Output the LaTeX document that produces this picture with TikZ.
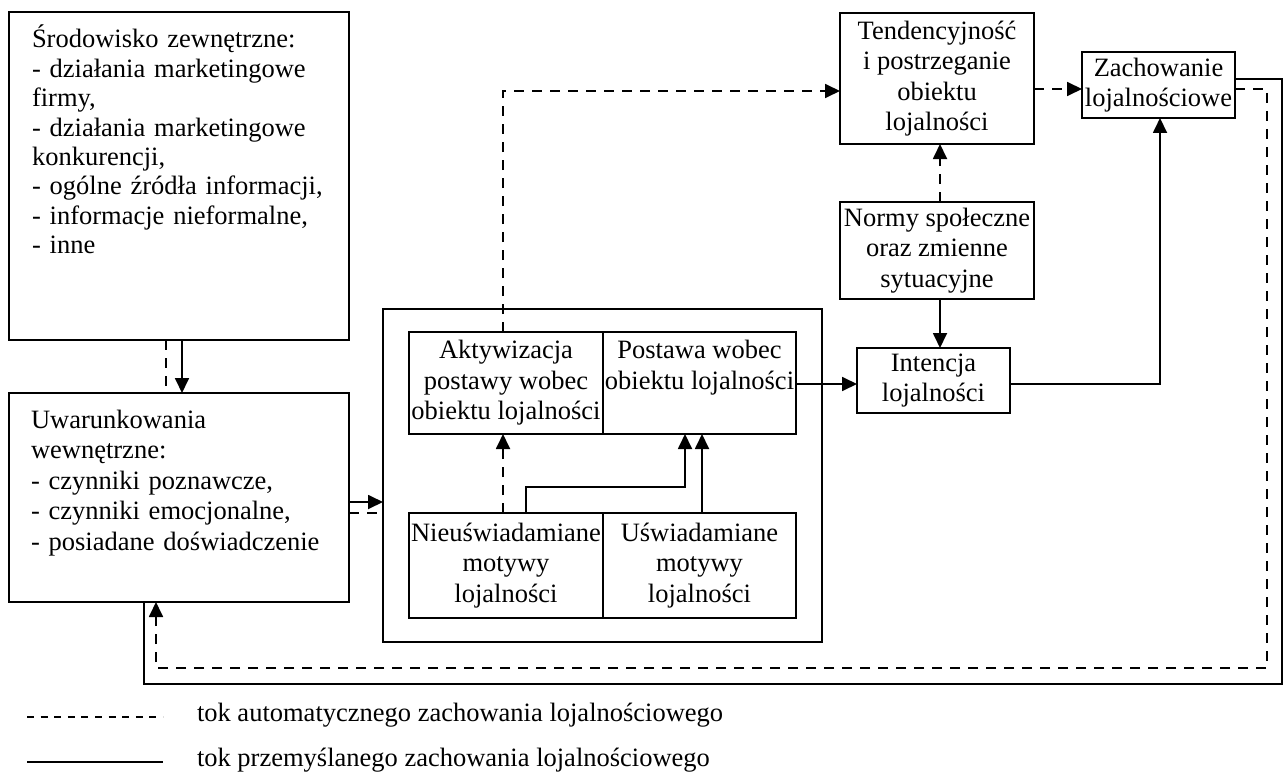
\documentclass[tikz,border=0pt]{standalone}
\usepackage{fontspec}
\setmainfont{Liberation Serif}
\usetikzlibrary{arrows.meta}
\begin{document}
\begin{tikzpicture}[x=1pt,y=-1pt,
  every node/.style={inner sep=0pt, outer sep=0pt},
  txt/.style={font=\fontsize{26.5}{30.5}\selectfont},
  box/.style={draw, line width=1.8pt, txt, align=center},
  solidl/.style={line width=1.8pt},
  delib/.style={line width=1.8pt, dash pattern=on 10pt off 8pt},
  legdash/.style={line width=1.8pt, dash pattern=on 7pt off 6.6pt},
  tip/.style={-{Triangle[length=15pt,width=14pt]}}
]
\useasboundingbox (0,0) rectangle (1287,773);

% left column
\node[box, minimum width=340, minimum height=328] (env) at (179,176) {};
\node[font=\fontsize{26.5}{29.4}\selectfont, anchor=base west, text width=298pt, align=left] (envtext) at (32,48)
  {Środowisko zewnętrzne:\\
   \makebox[298pt][s]{- działania marketingowe}\\
   firmy,\\
   \makebox[298pt][s]{- działania marketingowe}\\
   konkurencji,\\
   - ogólne źródła informacji,\\
   - informacje nieformalne,\\
   - inne};

\node[box, minimum width=340, minimum height=209] (cond) at (179,497.5) {};
\node[font=\fontsize{26.5}{30.5}\selectfont, anchor=base west, text width=310pt, align=left] (condtext) at (31,428)
  {Uwarunkowania\\
   wewnętrzne:\\
   - czynniki poznawcze,\\
   - czynniki emocjonalne,\\
   - posiadane doświadczenie};

% attitude block
\node[box, minimum width=439, minimum height=333] (outer) at (602.5,475.5) {};
\node[box, minimum width=194, minimum height=102] (akty) at (506,383)
  {Aktywizacja\\postawy wobec\\obiektu lojalności};
\node[box, minimum width=193, minimum height=102] (post) at (699.5,383)
  {Postawa wobec\\obiektu lojalności\\\vphantom{obiektu lojalności}};
\node[box, minimum width=194, minimum height=105] (nieu) at (506,565.5)
  {Nieuświadamiane\\motywy\\lojalności};
\node[box, minimum width=193, minimum height=105] (uswi) at (699.5,565.5)
  {Uświadamiane\\motywy\\lojalności};

% right part
\node[box, minimum width=194, minimum height=131] (tend) at (937,78.5)
  {Tendencyjność\\i postrzeganie\\obiektu\\lojalności};
\node[box, minimum width=153, minimum height=66] (zach) at (1158.5,85)
  {Zachowanie\\lojalnościowe};
\node[box, minimum width=194, minimum height=97] (normy) at (937,250.5)
  {Normy społeczne\\oraz zmienne\\sytuacyjne};
\node[box, minimum width=153, minimum height=65] (inten) at (933.5,380.5)
  {Intencja\\lojalności};

% routing guides
\coordinate (xd) at (166,0);
\coordinate (xs) at (182,0);
\coordinate (ys1) at (0,502);
\coordinate (ys2) at (0,513);
\coordinate (xn) at (503,0);
\coordinate (xn2) at (526,0);
\coordinate (yk) at (0,487);
\coordinate (xp1) at (685,0);
\coordinate (xp2) at (702,0);
\coordinate (yt) at (0,91);
\coordinate (yi) at (0,384);
\coordinate (xm) at (940,0);
\coordinate (yz) at (0,89);
\coordinate (xz) at (1160,0);
\coordinate (yf1) at (0,79);
\coordinate (xr1) at (1282,0);
\coordinate (yb1) at (0,684);
\coordinate (xl1) at (144,0);
\coordinate (xr2) at (1267,0);
\coordinate (yb2) at (0,668);
\coordinate (xl2) at (156,0);

% connectors
\draw[delib] (env.south -| xd) -- (cond.north -| xd);
\draw[solidl, tip] (env.south -| xs) -- (cond.north -| xs);
\draw[solidl, tip] (cond.east |- ys1) -- (outer.west |- ys1);
\draw[delib] (cond.east |- ys2) -- (outer.west |- ys2);
\draw[delib, tip] (nieu.north -| xn) -- (akty.south -| xn);
\draw[delib, tip] (akty.north -| xn) -- (xn |- yt) -- (tend.west |- yt);
\draw[solidl, tip] (nieu.north -| xn2) -- (xn2 |- yk) -- (xp1 |- yk) -- (post.south -| xp1);
\draw[solidl, tip] (uswi.north -| xp2) -- (post.south -| xp2);
\draw[solidl, tip] (post.east |- yi) -- (inten.west |- yi);
\draw[delib, tip] (normy.north -| xm) -- (tend.south -| xm);
\draw[solidl, tip] (normy.south -| xm) -- (inten.north -| xm);
\draw[delib, tip] (tend.east |- yz) -- (zach.west |- yz);
\draw[solidl, tip] (inten.east |- yi) -- (xz |- yi) -- (zach.south -| xz);
\draw[solidl] (zach.east |- yf1) -- (xr1 |- yf1) -- (xr1 |- yb1) -- (xl1 |- yb1) -- (cond.south -| xl1);
\draw[delib, tip] (zach.east |- yz) -- (xr2 |- yz) -- (xr2 |- yb2) -- (xl2 |- yb2) -- (cond.south -| xl2);

% legend
\coordinate (la1) at (27,717);
\coordinate (la2) at (163,717);
\coordinate (lb1) at (27,762);
\coordinate (lb2) at (163,762);
\draw[legdash] (la1) -- (la2);
\draw[solidl] (lb1) -- (lb2);
\node[txt, anchor=base west] (lega) at (197,721) {tok automatycznego zachowania lojalnościowego};
\node[txt, anchor=base west] (legb) at (197,766) {tok przemyślanego zachowania lojalnościowego};
\end{tikzpicture}
\end{document}
